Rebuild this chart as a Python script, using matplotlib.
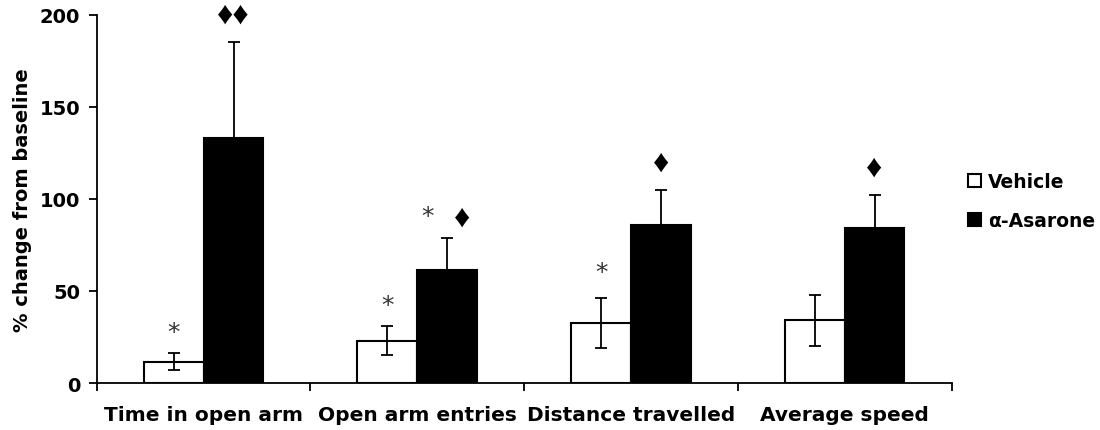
import matplotlib.pyplot as plt
import numpy as np

categories = ['Time in open arm', 'Open arm entries', 'Distance travelled', 'Average speed']
vehicle = [11.5, 23, 32.5, 34]
vehicle_err = [4.6, 8, 13.7, 14]
asarone = [133, 61.5, 86, 84.4]
asarone_err = [52, 17, 19, 17.5]
# significance marks: text above each bar, at a given height
vehicle_marks = ['*', '*', '*', '']
vehicle_mark_y = [27.5, 42.5, 60.5, 0]
asarone_marks = ['\u2666\u2666', '\u2666', '\u2666', '\u2666']
asarone_mark_y = [200, 89.6, 119.8, 116.7]
asarone_star_y = [None, 90.8, None, None]

plt.rcParams['font.family'] = ['DejaVu Sans']
plt.rcParams['font.weight'] = 'bold'

fig = plt.figure(figsize=(11, 4.31), dpi=100)
ax = fig.add_axes([0.088, 0.109, 0.777, 0.8546])

x = np.arange(len(categories))
w = 0.28
err_kw = dict(ecolor='black', elinewidth=1.3, capsize=4.5, capthick=1.3)
ax.bar(x - w / 2, vehicle, w, yerr=vehicle_err, color='white', edgecolor='black',
       linewidth=1.5, error_kw=err_kw, label='Vehicle')
ax.bar(x + w / 2, asarone, w, yerr=asarone_err, color='black', edgecolor='black',
       linewidth=1.5, error_kw=err_kw, label='\u03b1-Asarone')

star_kw = dict(ha='center', va='center', fontsize=18, family='DejaVu Sans',
               fontweight='normal', color='#333333')
for i in range(len(categories)):
    if vehicle_marks[i]:
        ax.text(x[i] - w / 2, vehicle_mark_y[i], vehicle_marks[i], **star_kw)
    ax.text(x[i] + w / 2 + (0.07 if asarone_star_y[i] else 0), asarone_mark_y[i], asarone_marks[i],
            ha='center', va='center', fontsize=23, family=['Liberation Sans', 'DejaVu Sans'],
            color='black')
    if asarone_star_y[i]:
        ax.text(x[i] + w / 2 - 0.09, asarone_star_y[i], '*', **star_kw)

ax.set_xlim(-0.5, 3.5)
ax.set_ylim(0, 200)
ax.set_yticks([0, 50, 100, 150, 200])
ax.set_xticks(np.arange(-0.5, 4, 1))
ax.set_xticklabels([])
ax.set_xticks(x, minor=True)
ax.set_xticklabels(categories, minor=True)
ax.tick_params(axis='x', which='minor', length=0, pad=16, labelsize=14.5)
ax.tick_params(axis='x', which='major', length=6, width=1.3, direction='out')
ax.tick_params(axis='y', length=6, width=1.3, labelsize=14, pad=6)
for lab in ax.get_xticklabels(minor=True) + ax.get_yticklabels():
    lab.set_fontweight('bold')

for s in ['top', 'right']:
    ax.spines[s].set_visible(False)
for s in ['left', 'bottom']:
    ax.spines[s].set_linewidth(1.3)

ax.set_ylabel('% change from baseline', fontsize=14, fontweight='bold', labelpad=5.5)

ax.legend(loc='center left', bbox_to_anchor=(0.999, 0.493), frameon=False,
          handlelength=0.7, handleheight=0.7, handletextpad=0.4, labelspacing=1.07,
          prop={'weight': 'bold', 'size': 13.5})

fig.savefig('out.png', dpi=100)
